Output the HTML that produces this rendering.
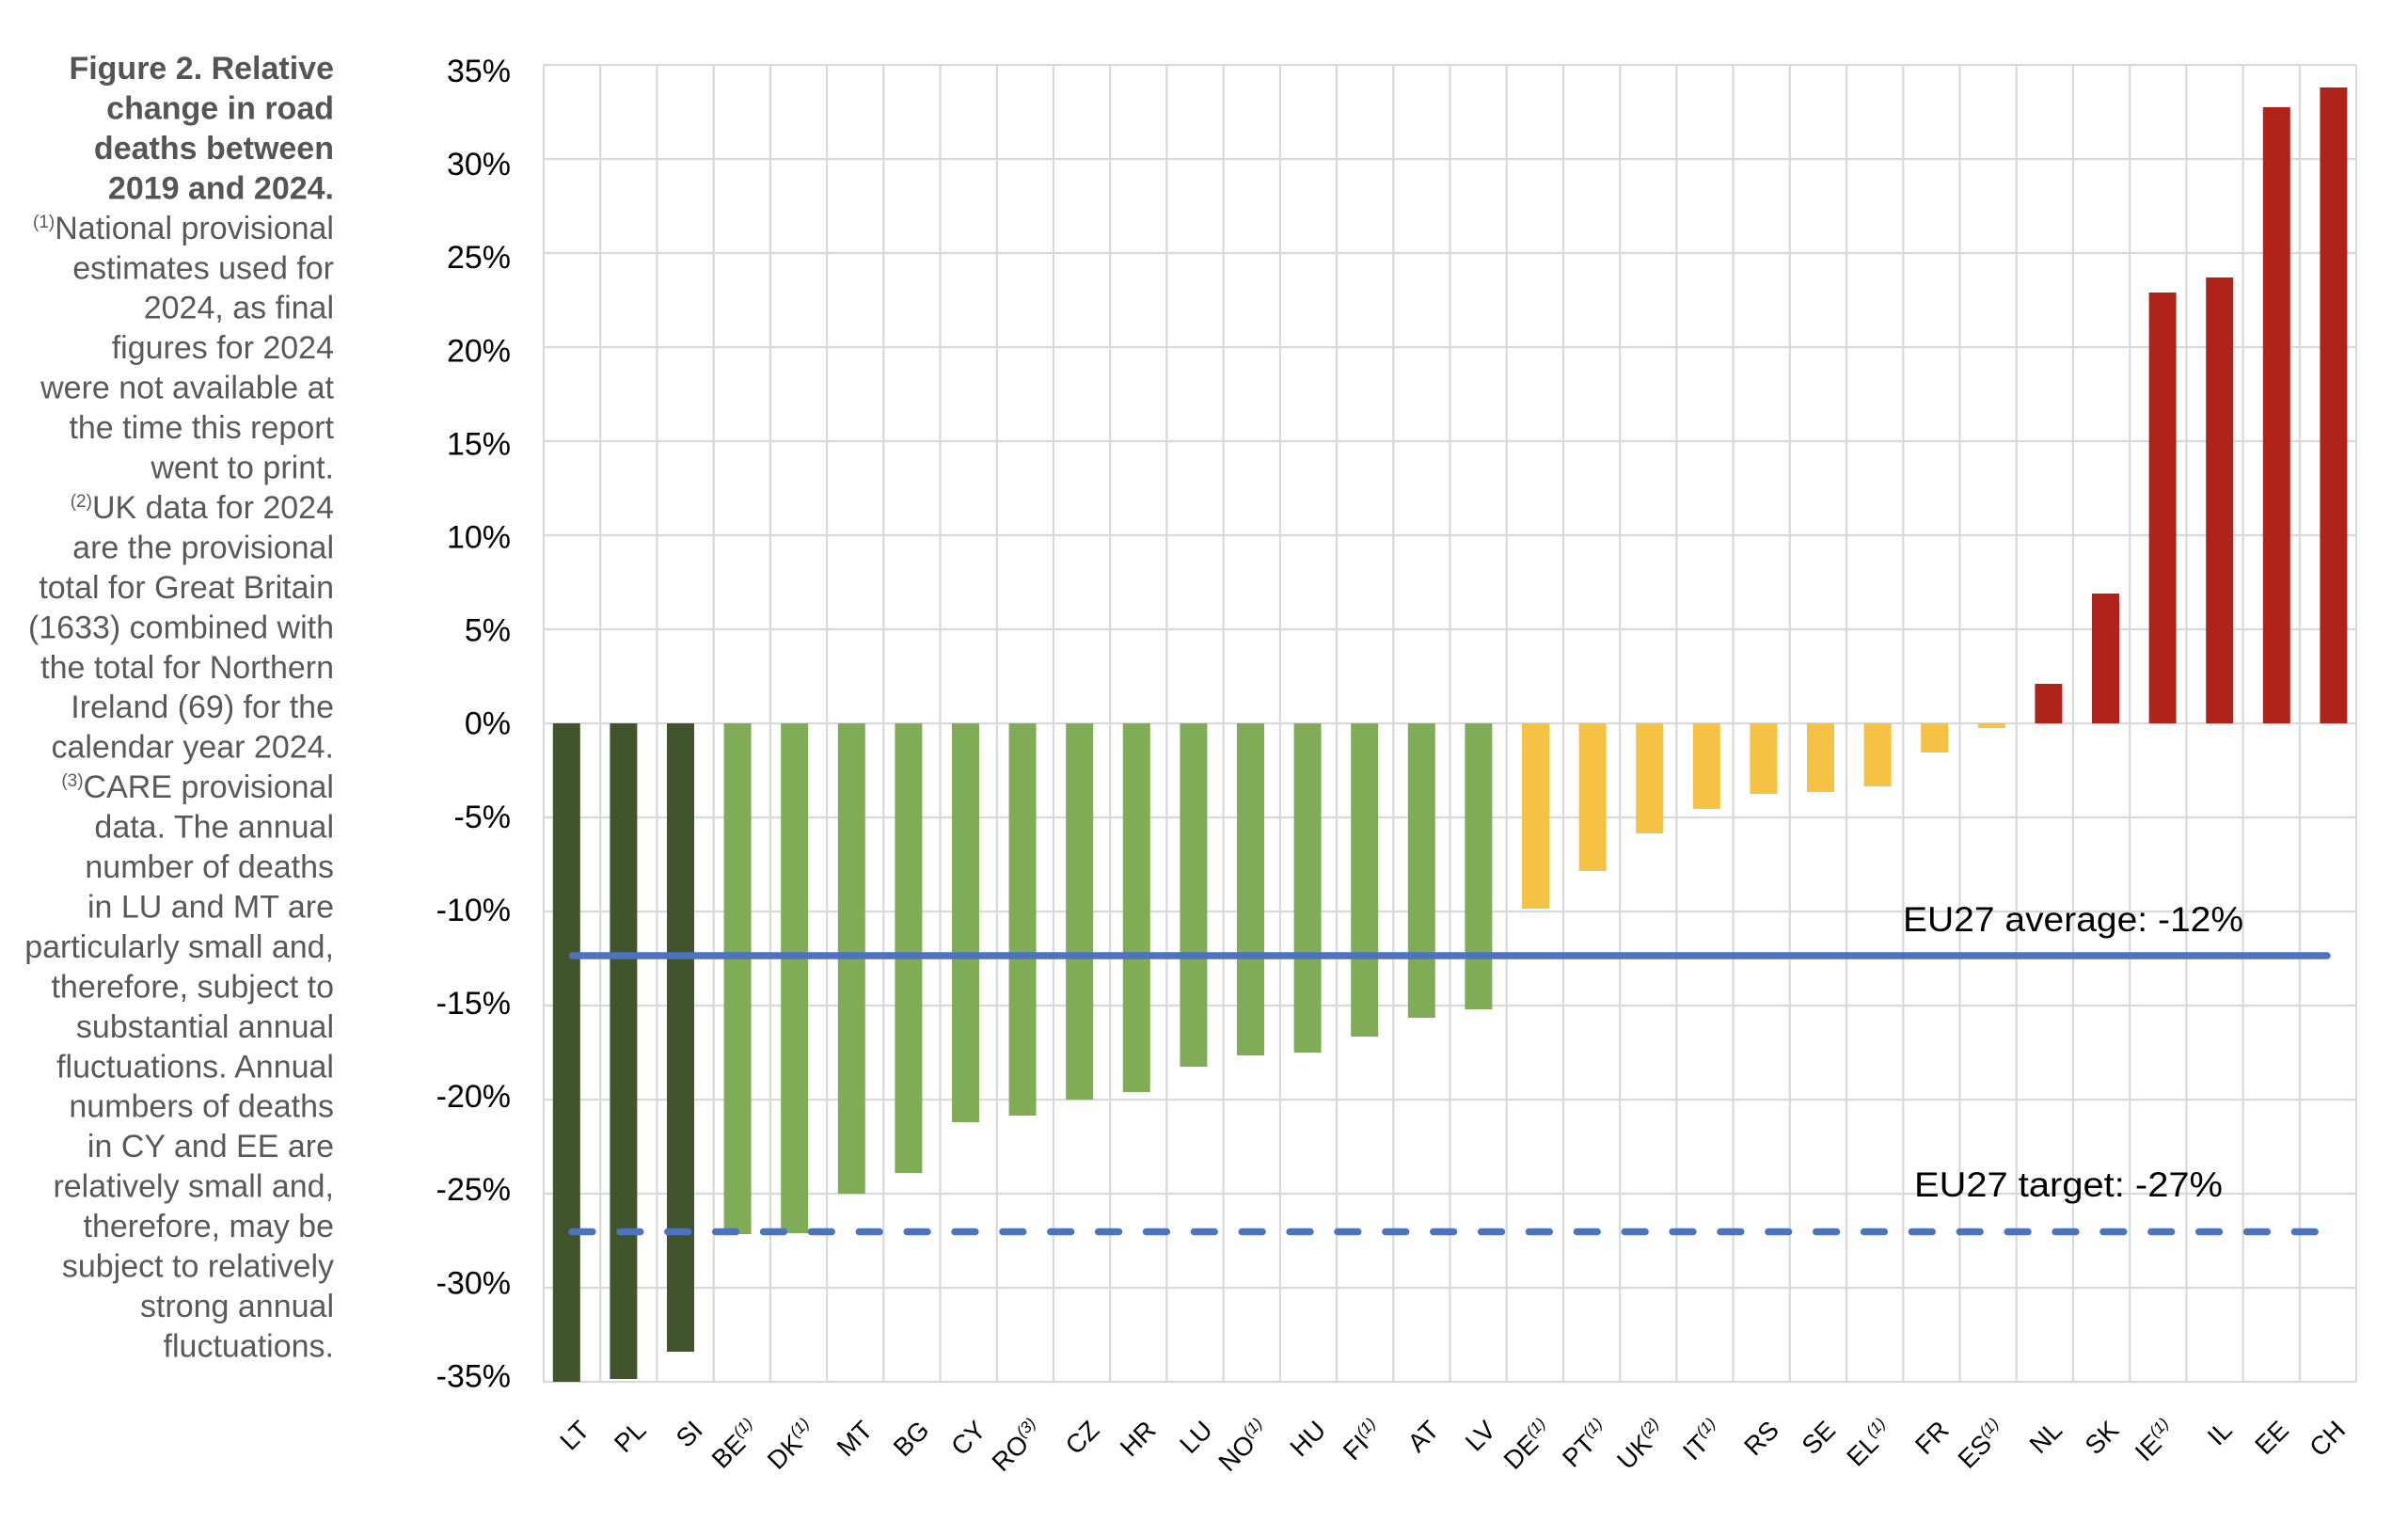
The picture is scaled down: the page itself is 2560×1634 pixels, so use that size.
<!DOCTYPE html>
<html>
<head>
<meta charset="utf-8">
<style>
  html,body{margin:0;padding:0;background:#fff;}
  svg{display:block;}
  .lt{font-family:"Liberation Sans",Arial,sans-serif;font-size:34px;fill:#595959;}
  .ltb{font-family:"Liberation Sans",Arial,sans-serif;font-size:34px;fill:#555555;font-weight:bold;}
  .yl{font-family:"Liberation Sans",Arial,sans-serif;font-size:34px;fill:#000;}
  .xl{font-family:"Liberation Sans",Arial,sans-serif;font-size:27.5px;fill:#000;}
  .an{font-family:"Liberation Sans",Arial,sans-serif;font-size:37px;fill:#000;}
</style>
</head>
<body>
<svg width="2560" height="1634" viewBox="0 0 2560 1634" xmlns="http://www.w3.org/2000/svg">
<rect x="0" y="0" width="2560" height="1634" fill="#fff"/>

<!-- horizontal gridlines -->
<g stroke="#d9d9d9" stroke-width="2.2">
<line x1="578" y1="69" x2="2505" y2="69"/>
<line x1="578" y1="169" x2="2505" y2="169"/>
<line x1="578" y1="269" x2="2505" y2="269"/>
<line x1="578" y1="369" x2="2505" y2="369"/>
<line x1="578" y1="469" x2="2505" y2="469"/>
<line x1="578" y1="569" x2="2505" y2="569"/>
<line x1="578" y1="669" x2="2505" y2="669"/>
<line x1="578" y1="769" x2="2505" y2="769"/>
<line x1="578" y1="869" x2="2505" y2="869"/>
<line x1="578" y1="969" x2="2505" y2="969"/>
<line x1="578" y1="1069" x2="2505" y2="1069"/>
<line x1="578" y1="1169" x2="2505" y2="1169"/>
<line x1="578" y1="1269" x2="2505" y2="1269"/>
<line x1="578" y1="1369" x2="2505" y2="1369"/>
<line x1="578" y1="1469" x2="2505" y2="1469"/>
</g>
<!-- vertical gridlines -->
<g stroke="#d9d9d9" stroke-width="2.2">
<line x1="578" y1="69" x2="578" y2="1469"/>
<line x1="638.2" y1="69" x2="638.2" y2="1469"/>
<line x1="698.4" y1="69" x2="698.4" y2="1469"/>
<line x1="758.7" y1="69" x2="758.7" y2="1469"/>
<line x1="818.9" y1="69" x2="818.9" y2="1469"/>
<line x1="879.1" y1="69" x2="879.1" y2="1469"/>
<line x1="939.3" y1="69" x2="939.3" y2="1469"/>
<line x1="999.5" y1="69" x2="999.5" y2="1469"/>
<line x1="1059.8" y1="69" x2="1059.8" y2="1469"/>
<line x1="1120" y1="69" x2="1120" y2="1469"/>
<line x1="1180.2" y1="69" x2="1180.2" y2="1469"/>
<line x1="1240.4" y1="69" x2="1240.4" y2="1469"/>
<line x1="1300.6" y1="69" x2="1300.6" y2="1469"/>
<line x1="1360.9" y1="69" x2="1360.9" y2="1469"/>
<line x1="1421.1" y1="69" x2="1421.1" y2="1469"/>
<line x1="1481.3" y1="69" x2="1481.3" y2="1469"/>
<line x1="1541.5" y1="69" x2="1541.5" y2="1469"/>
<line x1="1601.7" y1="69" x2="1601.7" y2="1469"/>
<line x1="1662" y1="69" x2="1662" y2="1469"/>
<line x1="1722.2" y1="69" x2="1722.2" y2="1469"/>
<line x1="1782.4" y1="69" x2="1782.4" y2="1469"/>
<line x1="1842.6" y1="69" x2="1842.6" y2="1469"/>
<line x1="1902.8" y1="69" x2="1902.8" y2="1469"/>
<line x1="1963.1" y1="69" x2="1963.1" y2="1469"/>
<line x1="2023.3" y1="69" x2="2023.3" y2="1469"/>
<line x1="2083.5" y1="69" x2="2083.5" y2="1469"/>
<line x1="2143.7" y1="69" x2="2143.7" y2="1469"/>
<line x1="2203.9" y1="69" x2="2203.9" y2="1469"/>
<line x1="2264.2" y1="69" x2="2264.2" y2="1469"/>
<line x1="2324.4" y1="69" x2="2324.4" y2="1469"/>
<line x1="2384.6" y1="69" x2="2384.6" y2="1469"/>
<line x1="2444.8" y1="69" x2="2444.8" y2="1469"/>
<line x1="2505" y1="69" x2="2505" y2="1469"/>
</g>

<!-- bars -->
<g fill="#40552b">
<rect x="587.8" y="769" width="29" height="700"/>
<rect x="648.4" y="769" width="29" height="697"/>
<rect x="709.0" y="769" width="29" height="668"/>
</g>
<g fill="#80ac57">
<rect x="769.6" y="769" width="29" height="543"/>
<rect x="830.2" y="769" width="29" height="542"/>
<rect x="890.8" y="769" width="29" height="500"/>
<rect x="951.4" y="769" width="29" height="478"/>
<rect x="1012.0" y="769" width="29" height="424"/>
<rect x="1072.6" y="769" width="29" height="417"/>
<rect x="1133.2" y="769" width="29" height="400"/>
<rect x="1193.8" y="769" width="29" height="392"/>
<rect x="1254.4" y="769" width="29" height="365"/>
<rect x="1315.0" y="769" width="29" height="353"/>
<rect x="1375.6" y="769" width="29" height="350"/>
<rect x="1436.2" y="769" width="29" height="333"/>
<rect x="1496.8" y="769" width="29" height="313"/>
<rect x="1557.4" y="769" width="29" height="304"/>
</g>
<g fill="#f6c244">
<rect x="1618.0" y="769" width="29" height="197"/>
<rect x="1678.6" y="769" width="29" height="157"/>
<rect x="1739.2" y="769" width="29" height="117"/>
<rect x="1799.8" y="769" width="29" height="91"/>
<rect x="1860.4" y="769" width="29" height="75"/>
<rect x="1921.0" y="769" width="29" height="73"/>
<rect x="1981.6" y="769" width="29" height="67"/>
<rect x="2042.2" y="769" width="29" height="31"/>
<rect x="2102.8" y="769" width="29" height="5"/>
</g>
<g fill="#b0231b">
<rect x="2163.4" y="727" width="29" height="42"/>
<rect x="2224.0" y="631" width="29" height="138"/>
<rect x="2284.6" y="311" width="29" height="458"/>
<rect x="2345.2" y="295" width="29" height="474"/>
<rect x="2405.8" y="114" width="29" height="655"/>
<rect x="2466.4" y="93" width="29" height="676"/>
</g>

<!-- EU27 average line -->
<line x1="608.5" y1="1016" x2="2474" y2="1016" stroke="#4e73be" stroke-width="7.5" stroke-linecap="round"/>
<!-- EU27 target dashed line -->
<line x1="608.1" y1="1309.5" x2="2461.2" y2="1309.5" stroke="#4e73be" stroke-width="7.5" stroke-linecap="round" stroke-dasharray="21.8 29.07"/>

<!-- annotations -->
<text class="an" x="2023" y="990" textLength="362" lengthAdjust="spacingAndGlyphs">EU27 average: -12%</text>
<text class="an" x="2035" y="1272" textLength="328" lengthAdjust="spacingAndGlyphs">EU27 target: -27%</text>

<!-- y axis labels -->
<g class="yl" text-anchor="end">
<text x="543" y="87">35%</text>
<text x="543" y="186.1">30%</text>
<text x="543" y="285.2">25%</text>
<text x="543" y="384.3">20%</text>
<text x="543" y="483.4">15%</text>
<text x="543" y="582.5">10%</text>
<text x="543" y="681.6">5%</text>
<text x="543" y="780.7">0%</text>
<text x="543" y="879.8">-5%</text>
<text x="543" y="978.9">-10%</text>
<text x="543" y="1078">-15%</text>
<text x="543" y="1177.1">-20%</text>
<text x="543" y="1276.2">-25%</text>
<text x="543" y="1375.3">-30%</text>
<text x="543" y="1474.4">-35%</text>
</g>

<!-- x axis labels -->
<g class="xl" text-anchor="end">
<text transform="translate(628.1,1522) rotate(-45)">LT</text>
<text transform="translate(688.3,1522) rotate(-45)">PL</text>
<text transform="translate(748.5,1522) rotate(-45)">SI</text>
<text transform="translate(808.8,1522) rotate(-45)">BE<tspan dy="-11" font-size="17" font-style="italic">(1)</tspan></text>
<text transform="translate(869.0,1522) rotate(-45)">DK<tspan dy="-11" font-size="17" font-style="italic">(1)</tspan></text>
<text transform="translate(929.2,1522) rotate(-45)">MT</text>
<text transform="translate(989.4,1522) rotate(-45)">BG</text>
<text transform="translate(1049.6,1522) rotate(-45)">CY</text>
<text transform="translate(1109.9,1522) rotate(-45)">RO<tspan dy="-11" font-size="17" font-style="italic">(3)</tspan></text>
<text transform="translate(1170.1,1522) rotate(-45)">CZ</text>
<text transform="translate(1230.3,1522) rotate(-45)">HR</text>
<text transform="translate(1290.5,1522) rotate(-45)">LU</text>
<text transform="translate(1350.7,1522) rotate(-45)">NO<tspan dy="-11" font-size="17" font-style="italic">(1)</tspan></text>
<text transform="translate(1411.0,1522) rotate(-45)">HU</text>
<text transform="translate(1471.2,1522) rotate(-45)">FI<tspan dy="-11" font-size="17" font-style="italic">(1)</tspan></text>
<text transform="translate(1531.4,1522) rotate(-45)">AT</text>
<text transform="translate(1591.6,1522) rotate(-45)">LV</text>
<text transform="translate(1651.8,1522) rotate(-45)">DE<tspan dy="-11" font-size="17" font-style="italic">(1)</tspan></text>
<text transform="translate(1712.1,1522) rotate(-45)">PT<tspan dy="-11" font-size="17" font-style="italic">(1)</tspan></text>
<text transform="translate(1772.3,1522) rotate(-45)">UK<tspan dy="-11" font-size="17" font-style="italic">(2)</tspan></text>
<text transform="translate(1832.5,1522) rotate(-45)">IT<tspan dy="-11" font-size="17" font-style="italic">(1)</tspan></text>
<text transform="translate(1892.7,1522) rotate(-45)">RS</text>
<text transform="translate(1952.9,1522) rotate(-45)">SE</text>
<text transform="translate(2013.2,1522) rotate(-45)">EL<tspan dy="-11" font-size="17" font-style="italic">(1)</tspan></text>
<text transform="translate(2073.4,1522) rotate(-45)">FR</text>
<text transform="translate(2133.6,1522) rotate(-45)">ES<tspan dy="-11" font-size="17" font-style="italic">(1)</tspan></text>
<text transform="translate(2193.8,1522) rotate(-45)">NL</text>
<text transform="translate(2254.0,1522) rotate(-45)">SK</text>
<text transform="translate(2314.3,1522) rotate(-45)">IE<tspan dy="-11" font-size="17" font-style="italic">(1)</tspan></text>
<text transform="translate(2374.5,1522) rotate(-45)">IL</text>
<text transform="translate(2434.7,1522) rotate(-45)">EE</text>
<text transform="translate(2494.9,1522) rotate(-45)">CH</text>
</g>

<!-- left caption -->
<g text-anchor="end">
<text class="ltb" x="355" y="84">Figure 2. Relative</text>
<text class="ltb" x="355" y="126.5">change in road</text>
<text class="ltb" x="355" y="168.9">deaths between</text>
<text class="ltb" x="355" y="211.4">2019 and 2024.</text>
<text class="lt" x="355" y="253.8"><tspan font-size="19" dy="-12">(1)</tspan><tspan dy="12">National provisional</tspan></text>
<text class="lt" x="355" y="296.3">estimates used for</text>
<text class="lt" x="355" y="338.7">2024, as final</text>
<text class="lt" x="355" y="381.2">figures for 2024</text>
<text class="lt" x="355" y="423.6">were not available at</text>
<text class="lt" x="355" y="466.1">the time this report</text>
<text class="lt" x="355" y="508.5">went to print.</text>
<text class="lt" x="355" y="551"><tspan font-size="19" dy="-12">(2)</tspan><tspan dy="12">UK data for 2024</tspan></text>
<text class="lt" x="355" y="593.4">are the provisional</text>
<text class="lt" x="355" y="635.9">total for Great Britain</text>
<text class="lt" x="355" y="678.3">(1633) combined with</text>
<text class="lt" x="355" y="720.8">the total for Northern</text>
<text class="lt" x="355" y="763.2">Ireland (69) for the</text>
<text class="lt" x="355" y="805.7">calendar year 2024.</text>
<text class="lt" x="355" y="848.1"><tspan font-size="19" dy="-12">(3)</tspan><tspan dy="12">CARE provisional</tspan></text>
<text class="lt" x="355" y="890.6">data. The annual</text>
<text class="lt" x="355" y="933">number of deaths</text>
<text class="lt" x="355" y="975.5">in LU and MT are</text>
<text class="lt" x="355" y="1017.9">particularly small and,</text>
<text class="lt" x="355" y="1060.4">therefore, subject to</text>
<text class="lt" x="355" y="1102.8">substantial annual</text>
<text class="lt" x="355" y="1145.3">fluctuations. Annual</text>
<text class="lt" x="355" y="1187.7">numbers of deaths</text>
<text class="lt" x="355" y="1230.2">in CY and EE are</text>
<text class="lt" x="355" y="1272.6">relatively small and,</text>
<text class="lt" x="355" y="1315.1">therefore, may be</text>
<text class="lt" x="355" y="1357.5">subject to relatively</text>
<text class="lt" x="355" y="1400">strong annual</text>
<text class="lt" x="355" y="1442.4">fluctuations.</text>
</g>
</svg>
</body>
</html>
